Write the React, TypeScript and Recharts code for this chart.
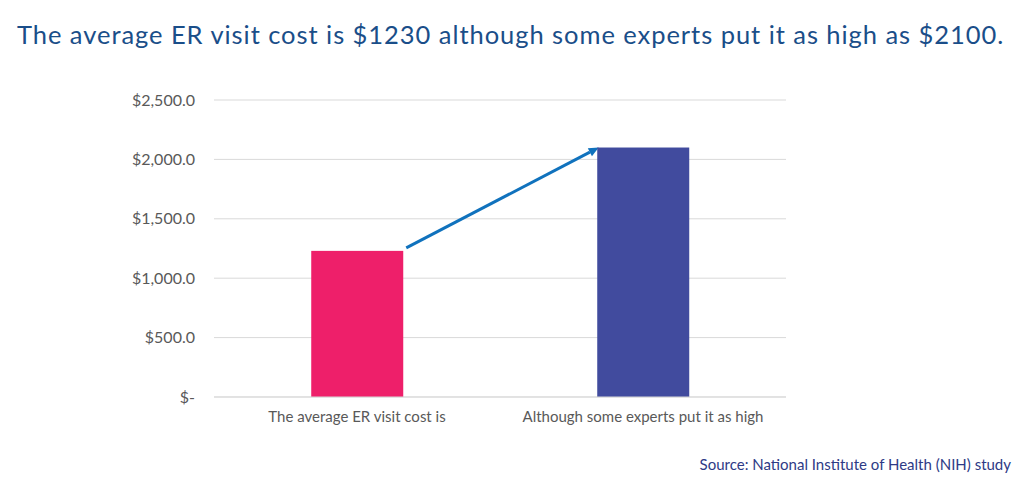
import React from "react";
import { BarChart, Bar, XAxis, YAxis, CartesianGrid, Cell } from "recharts";

const categories = ["The average ER visit cost is", "Although some experts put it as high"];
const costs = [1230, 2100];
const barColors = ["#EE1F6A", "#414B9E"];
const yTicks = [0, 500, 1000, 1500, 2000, 2500];
const titleText = "The average ER visit cost is $1230 although some experts put it as high as $2100.";
const sourceText = "Source: National Institute of Health (NIH) study";

const data = categories.map((c, i) => ({ name: c, cost: costs[i] }));

const GAP = 0.34;

const fmt = (v: number) =>
  v === 0 ? "$-" : "$" + v.toLocaleString("en-US", { minimumFractionDigits: 1, maximumFractionDigits: 1 });

const BarWithArrow = (props: any) => {
  const { x, y, width, height, fill, index } = props;
  const els: any[] = [<rect key="r" x={x} y={y} width={width} height={height} fill={fill} />];
  if (index === 0 && height > 0) {
    const baseline = y + height;
    const perUnit = height / costs[0];
    const band = width / (1 - 2 * GAP);
    const x2 = x + band;
    const y2 = baseline - costs[1] * perUnit;
    const x1 = x + width + 3;
    const y1 = y - 3;
    const ang = Math.atan2(y2 - y1, x2 - x1);
    const L = 10, W = 4.5;
    const bx = x2 - L * Math.cos(ang), by = y2 - L * Math.sin(ang);
    const p1 = `${x2},${y2}`;
    const p2 = `${bx + W * Math.sin(ang)},${by - W * Math.cos(ang)}`;
    const p3 = `${bx - W * Math.sin(ang)},${by + W * Math.cos(ang)}`;
    els.push(
      <line key="l" x1={x1} y1={y1} x2={bx} y2={by} stroke="#1072BD" strokeWidth={3} />,
      <polygon key="p" points={`${p1} ${p2} ${p3}`} fill="#1072BD" />
    );
  }
  return <g>{els}</g>;
};

export default function App() {
  return (
    <div style={{ position: "absolute", left: 0, top: 0, width: 1024, height: 482, background: "#fff", overflow: "hidden" }}>
      <div
        style={{
          position: "absolute",
          left: 17,
          top: 19,
          fontFamily: "Lato, 'Open Sans', sans-serif",
          fontSize: 25.5,
          letterSpacing: 0.95,
          color: "#1A4E89",
          whiteSpace: "nowrap",
          lineHeight: "30px",
        }}
      >
        {titleText}
      </div>
      <div style={{ position: "absolute", left: 0, top: 0 }}>
        <BarChart width={1024} height={482} data={data} margin={{ top: 100, right: 238, bottom: 55, left: 0 }} barCategoryGap={`${GAP * 100}%`}>
          <CartesianGrid vertical={false} stroke="#D9D9D9" strokeWidth={1} />
          <XAxis
            dataKey="name"
            axisLine={{ stroke: "#D9D9D9" }}
            tickLine={false}
            tick={{ fill: "#595959", fontSize: 15, fontFamily: "Lato, 'Open Sans', sans-serif" }}
            tickMargin={8}
            interval={0}
          />
          <YAxis
            width={214}
            domain={[0, 2500]}
            ticks={yTicks}
            tickFormatter={fmt}
            axisLine={false}
            tickLine={false}
            tickSize={6}
            tickMargin={13}
            tick={{ fill: "#595959", fontSize: 16, fontFamily: "Lato, 'Open Sans', sans-serif" }}
          />
          <Bar dataKey="cost" isAnimationActive={false} shape={BarWithArrow}>
            {data.map((d, i) => (
              <Cell key={d.name} fill={barColors[i]} />
            ))}
          </Bar>
        </BarChart>
      </div>
      <div
        style={{
          position: "absolute",
          right: 13,
          top: 455,
          fontFamily: "Lato, 'Open Sans', sans-serif",
          fontSize: 15,
          color: "#2E3A86",
          whiteSpace: "nowrap",
        }}
      >
        {sourceText}
      </div>
    </div>
  );
}
